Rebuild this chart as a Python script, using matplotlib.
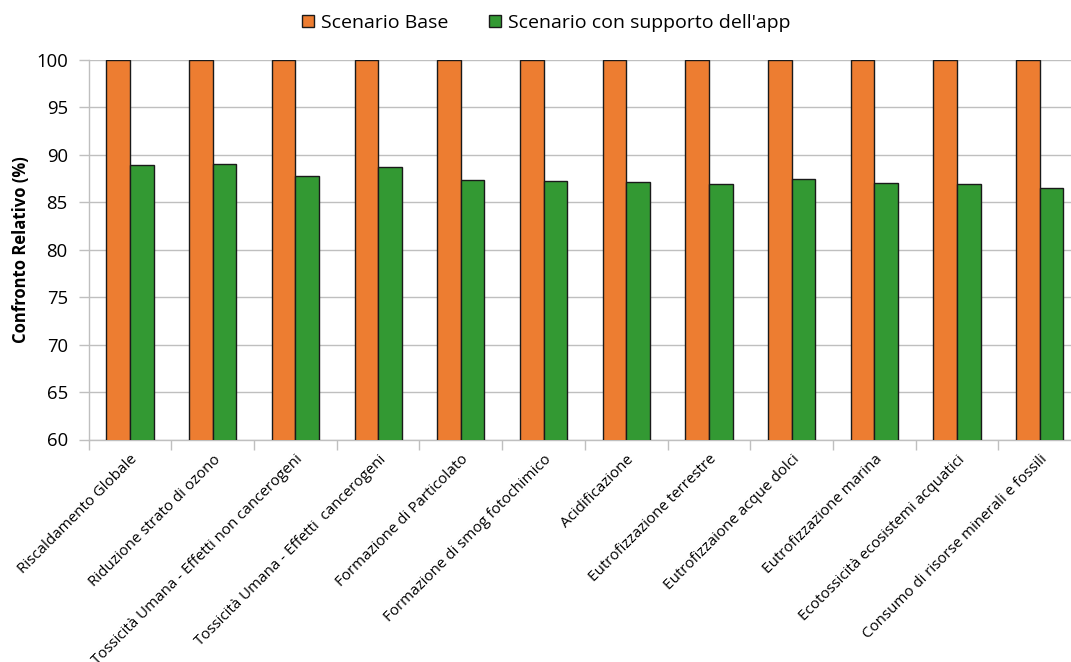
import matplotlib
matplotlib.use("Agg")
import matplotlib.pyplot as plt
import numpy as np

categories = [
    "Riscaldamento Globale",
    "Riduzione strato di ozono",
    "Tossicità Umana - Effetti non cancerogeni",
    "Tossicità Umana - Effetti  cancerogeni",
    "Formazione di Particolato",
    "Formazione di smog fotochimico",
    "Acidificazione",
    "Eutrofizzazione terrestre",
    "Eutrofizzaione acque dolci",
    "Eutrofizzazione marina",
    "Ecotossicità ecosistemi acquatici",
    "Consumo di risorse minerali e fossili",
]
base_values = [100] * 12
app_values = [88.9, 89.0, 87.8, 88.7, 87.3, 87.2, 87.1, 86.9, 87.5, 87.0, 86.9, 86.5]
series_names = ["Scenario Base", "Scenario con supporto dell'app"]
y_ticks = [60, 65, 70, 75, 80, 85, 90, 95, 100]

plt.rcParams["font.family"] = ["Open Sans", "DejaVu Sans"]

W, H = 1071, 662
fig = plt.figure(figsize=(W / 100, H / 100), dpi=100)
left, right_edge = 88.7, 88.7 + 12 * 82.7
top, bottom = 60, 439.5
ax = fig.add_axes([left / W, 1 - bottom / H, (right_edge - left) / W, (bottom - top) / H])

x = np.arange(len(categories))
bw = 0.285
orange = "#ED7D31"
green = "#339933"
ax.bar(x - bw / 2, base_values, width=bw, color=orange, edgecolor="#1a1a1a",
       linewidth=1.0, label=series_names[0], zorder=3)
ax.bar(x + bw / 2, app_values, width=bw, color=green, edgecolor="#1a1a1a",
       linewidth=1.0, label=series_names[1], zorder=3)

ax.set_xlim(-0.5, len(categories) - 0.5)
ax.set_ylim(60, 100)
ax.set_yticks(y_ticks)
ax.set_yticklabels([str(v) for v in y_ticks], fontsize=13.3)
ax.yaxis.grid(True, color="#BFBFBF", linewidth=1.0, zorder=0)
ax.set_axisbelow(True)

ax.set_xticks(x)
ax.set_xticklabels(categories, rotation=45, ha="right", va="top",
                   rotation_mode="anchor", fontsize=10.9)
ax.tick_params(axis="x", which="major", length=0, pad=9)
ax.set_xticks(np.arange(-0.5, len(categories), 1.0), minor=True)
ax.tick_params(axis="x", which="minor", length=7, color="#BFBFBF", width=1.0)
ax.tick_params(axis="y", length=7, color="#BFBFBF", width=1.0, pad=8)

for side in ["top", "right"]:
    ax.spines[side].set_visible(False)
for side in ["left", "bottom"]:
    ax.spines[side].set_color("#BFBFBF")
    ax.spines[side].set_linewidth(1.0)

ax.set_ylabel("Confronto Relativo (%)", fontsize=12, fontweight="bold", labelpad=4.5)

fig.legend(loc="center", bbox_to_anchor=(546 / W, 1 - 23 / H), ncol=2, frameon=False,
           fontsize=14, handlelength=0.62, handleheight=0.62, handletextpad=0.36,
           columnspacing=2.1, borderpad=0.2)

fig.savefig("out.png", dpi=100)
